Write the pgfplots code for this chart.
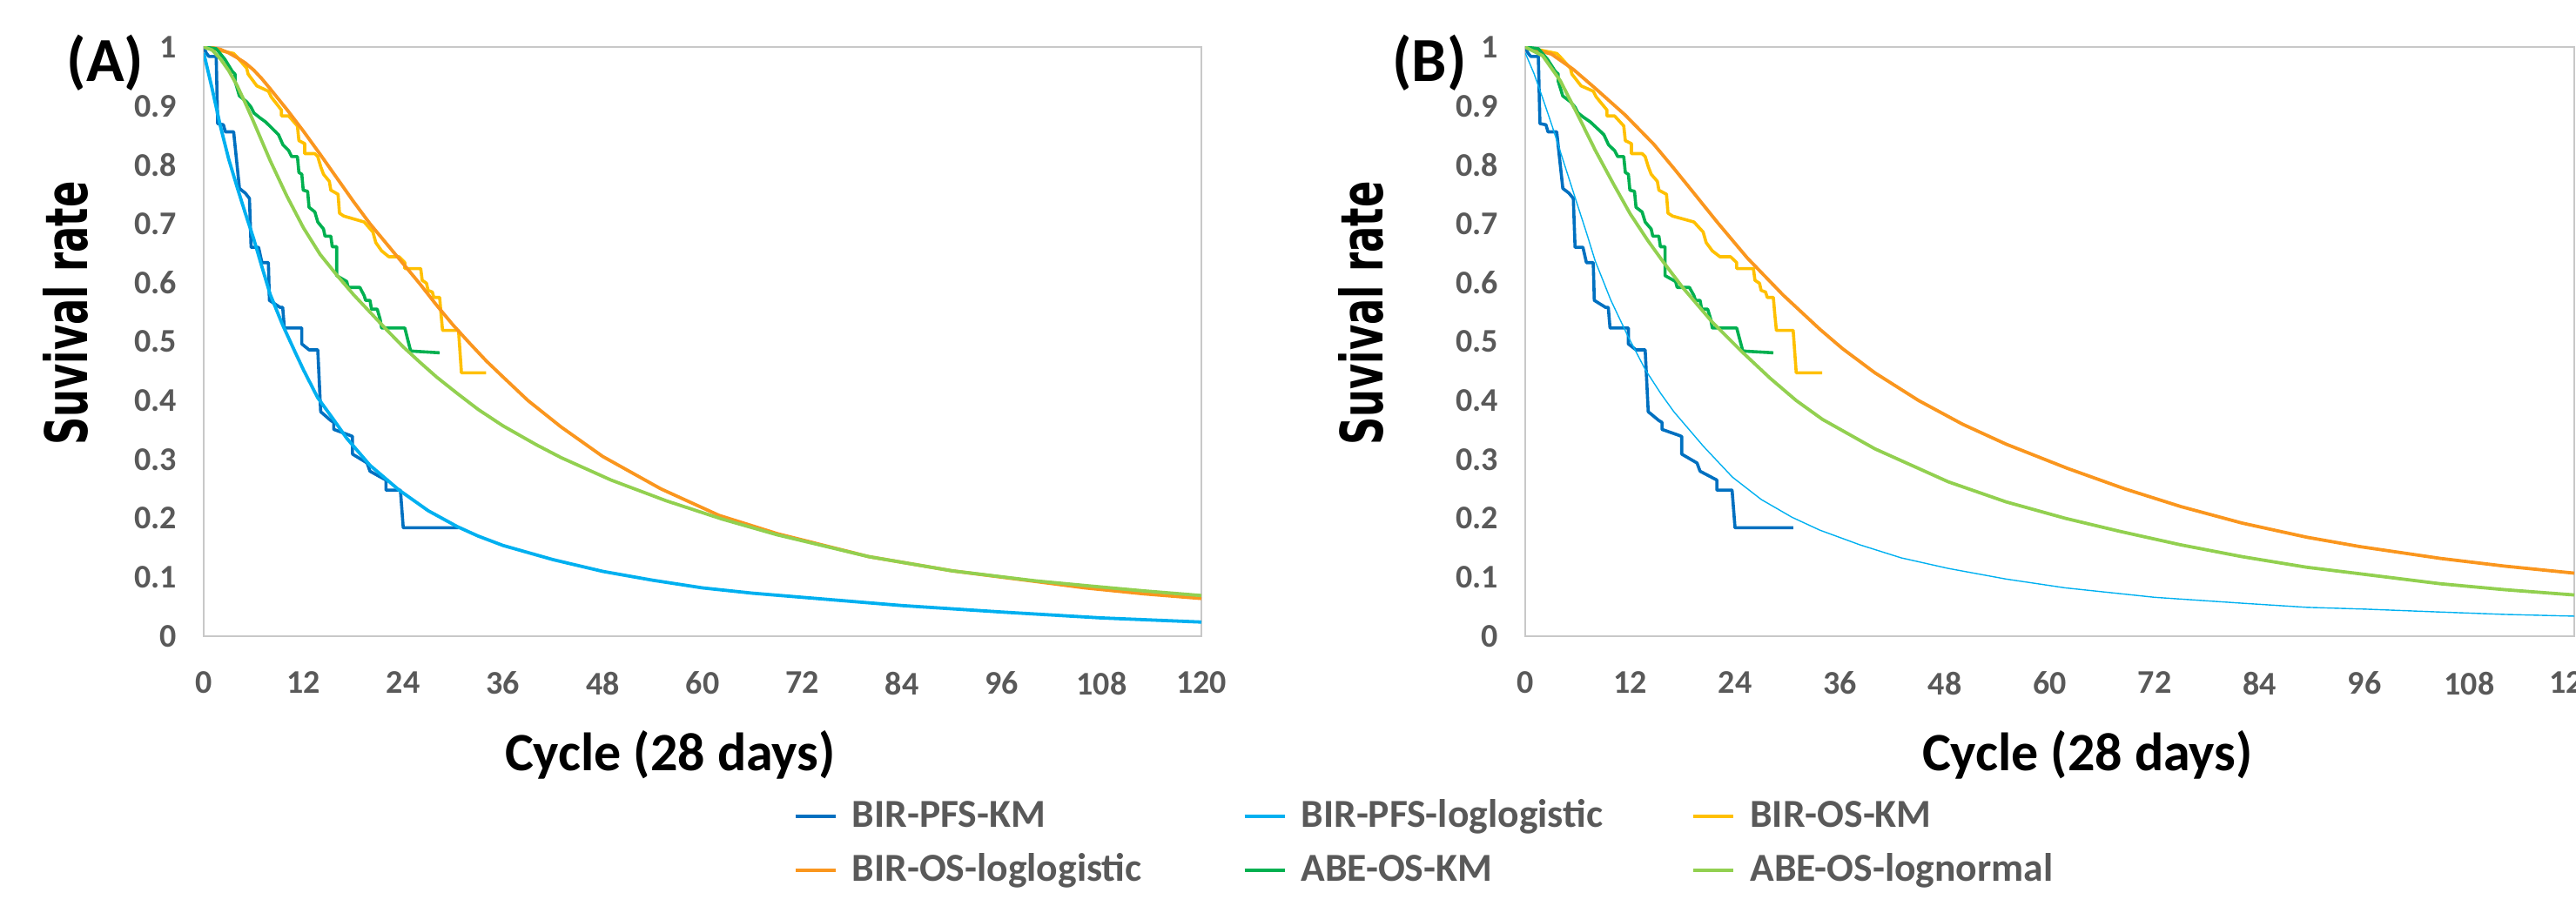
\documentclass[border=0pt]{standalone}
\usepackage{fontspec}
\setmainfont{Carlito}
\newfontfamily\dejavu{DejaVu Sans}
\usepackage{graphicx}
\usepackage{pgfplots}
\usepackage{pgfplotstable}
\pgfplotsset{compat=1.18}

\definecolor{kmblue}{RGB}{0,112,192}
\definecolor{llblue}{RGB}{0,176,240}
\definecolor{kmyellow}{RGB}{255,192,0}
\definecolor{llorange}{RGB}{250,150,30}
\definecolor{kmgreen}{RGB}{0,176,80}
\definecolor{lngreen}{RGB}{146,208,80}
\definecolor{axgray}{RGB}{200,200,200}
\definecolor{tickgray}{RGB}{89,89,89}

% Kaplan-Meier curves (same in both panels)
\pgfplotstableread{
c s
0 1.0
0.3 0.99
0.63 0.984
1.5 0.984
1.68 0.87
2.37 0.868
2.6 0.856
3.6 0.856
4.3 0.76
5.0 0.752
5.5 0.743
5.7 0.66
6.6 0.66
7.0 0.634
7.78 0.634
7.9 0.570
9.2 0.558
9.5 0.558
9.7 0.523
11.8 0.523
11.8 0.496
12.67 0.486
13.72 0.486
14.07 0.381
15.29 0.366
15.64 0.363
15.64 0.351
17.56 0.341
17.9 0.339
17.9 0.309
19.65 0.294
20.0 0.280
21.92 0.265
21.92 0.248
23.66 0.248
24.0 0.184
30.65 0.184
}\tPFSkm

\pgfplotstableread{
c s
0 1.0
3.6 0.989
3.95 0.984
5.17 0.964
5.34 0.954
6.39 0.934
7.78 0.925
8.13 0.915
9.35 0.893
9.35 0.883
10.22 0.883
11.27 0.866
11.45 0.841
12.15 0.836
12.15 0.819
13.37 0.819
13.72 0.814
14.07 0.797
14.41 0.784
15.11 0.772
15.29 0.757
16.16 0.750
16.33 0.718
16.86 0.713
19.3 0.703
20.35 0.686
20.7 0.668
21.4 0.654
22.27 0.644
23.49 0.644
24.19 0.634
24.19 0.624
26.1 0.624
26.28 0.604
26.8 0.599
26.98 0.587
27.5 0.584
27.68 0.575
28.38 0.575
28.55 0.546
28.73 0.519
30.65 0.519
31.0 0.447
33.96 0.447
}\tOSkm

\pgfplotstableread{
c s
0 1.0
1.5 0.997
1.68 0.994
2.55 0.979
3.42 0.959
3.77 0.954
3.77 0.942
4.29 0.917
5.17 0.907
5.69 0.898
6.04 0.888
6.74 0.880
7.43 0.873
8.66 0.856
9.0 0.851
9.53 0.834
10.23 0.824
10.58 0.814
11.27 0.814
11.45 0.787
11.8 0.784
11.97 0.757
12.5 0.755
12.67 0.728
13.37 0.720
13.72 0.703
14.41 0.691
14.59 0.679
15.29 0.679
15.46 0.661
15.99 0.661
15.99 0.612
17.2 0.602
17.38 0.592
18.78 0.592
19.3 0.578
19.48 0.570
20.0 0.570
20.18 0.555
20.87 0.555
21.22 0.538
21.4 0.523
24.19 0.523
24.89 0.484
28.38 0.481
}\tABEkm

% Panel A fitted curves
\pgfplotstableread{
c s
0 0.99
1 0.93
2 0.866
3 0.81
4 0.763
5 0.718
6 0.675
7 0.627
8 0.58
9.5 0.528
11 0.482
12 0.452
13.7 0.405
15.5 0.37
17.2 0.336
20 0.29
23.5 0.248
27 0.213
30.5 0.186
33 0.170
36 0.154
42 0.13
48 0.11
54 0.095
60 0.082
66 0.073
72 0.066
84 0.052
96 0.041
108 0.031
120 0.024
}\tApfsll

\pgfplotstableread{
c s
0 1.0
1 0.999
2 0.996
3 0.99
4 0.982
5 0.973
6 0.961
7 0.946
8 0.929
10 0.894
12 0.857
14 0.818
16 0.778
18 0.738
20 0.70
22 0.666
24 0.632
26 0.598
28 0.562
30 0.528
32 0.497
34 0.467
36 0.44
39 0.40
43 0.355
48 0.305
55 0.25
62 0.205
69 0.174
80 0.135
90 0.111
100 0.093
106 0.082
113 0.072
120 0.064
}\tAosll

\pgfplotstableread{
c s
0 1.0
1 0.995
2 0.98
3 0.96
4 0.935
5 0.905
6 0.873
8 0.807
10 0.747
12 0.693
14 0.648
16 0.613
18 0.58
20 0.55
22 0.52
24 0.491
26 0.465
28 0.44
30.5 0.412
33 0.385
36 0.357
40 0.325
43 0.303
49 0.265
55.6 0.23
62.3 0.199
69 0.172
80 0.135
90 0.111
100 0.094
106 0.086
113 0.077
120 0.069
}\tAabeln

% Panel B fitted curves
\pgfplotstableread{
c s
0 0.99
1 0.955
2 0.913
3.1 0.865
4.5 0.80
5.8 0.74
7 0.685
8 0.637
9.8 0.57
11.75 0.509
13.75 0.452
15.5 0.412
17 0.381
20.4 0.322
23.7 0.27
27 0.232
30.5 0.202
33.7 0.18
38.3 0.155
43 0.133
48.4 0.115
55 0.097
61.8 0.082
72 0.066
82 0.056
89.4 0.049
96 0.046
104.7 0.041
112 0.037
120 0.034
}\tBpfsll

\pgfplotstableread{
c s
0 1.0
3 0.988
5.5 0.962
8 0.93
11.4 0.885
14.7 0.835
17 0.794
19.4 0.75
22 0.702
25.4 0.642
29.5 0.579
33.7 0.521
36.3 0.488
40 0.447
45 0.40
50 0.36
55 0.326
62 0.285
68.6 0.25
75 0.22
82 0.192
89.4 0.168
95.5 0.152
104.7 0.132
112 0.119
120 0.107
}\tBosll

\pgfplotstableread{
c s
0 1.0
2 0.985
4 0.943
6 0.885
8 0.825
10 0.77
12 0.717
14 0.672
15.7 0.637
18 0.592
21.4 0.533
24.7 0.484
28 0.438
31 0.40
34 0.368
40 0.318
48.4 0.262
55 0.228
61.8 0.2
68 0.178
75 0.155
82 0.135
89.4 0.117
96 0.105
104.7 0.089
112 0.079
120 0.07
}\tBabeln

\pgfplotsset{
  panel/.style={
    scale only axis,
    height=169.25pt,
    xmin=0, xmax=120, ymin=0, ymax=1,
    xtick={0,12,24,36,48,60,72,84,96,108,120},
    ytick={0,0.1,0.2,0.3,0.4,0.5,0.6,0.7,0.8,0.9,1},
    major tick length=0pt,
    axis line style={draw=axgray, line width=0.5pt},
    tick label style={font=\fontsize{9.5}{10}\selectfont\bfseries, text=tickgray},
    /pgf/number format/assume math mode=true,
    xticklabel style={anchor=north, inner sep=0pt, yshift=-10pt},
    yticklabel style={anchor=east, inner sep=0pt, xshift=-7.5pt},
  },
  km/.style={line width=0.9pt, line join=round},
  fit/.style={line width=0.95pt, line join=round},
}

\begin{document}
\begin{tikzpicture}
% Panel A
\begin{axis}[panel, at={(58.5pt,77.25pt)}, anchor=south west, width=286.5pt,
  legend columns=3, legend cell align=left,
  legend image code/.code={\draw[#1] (0pt,0pt) -- (11.5pt,0pt);},
  legend style={at={(0.5916,-0.2733)}, anchor=north west, draw=none, fill=none,
    inner sep=0pt, outer sep=0pt,
    font=\fontsize{11.4}{12}\selectfont\bfseries, text=tickgray,
    /tikz/every odd column/.append style={column sep=4.25pt},
    /tikz/every even column/.append style={column sep=0pt},
    row sep=4.5pt,
    nodes={inner sep=0pt, text height=8.5pt, text depth=2.5pt}},
]
\addplot[kmblue, km] table[x=c,y=s] {\tPFSkm};
\addlegendentry{\makebox[112.25pt][l]{BIR-PFS-KM}}
\addplot[llblue, fit] table[x=c,y=s] {\tApfsll};
\addlegendentry{\makebox[112.25pt][l]{BIR-PFS-loglogistic}}
\addplot[kmyellow, km] table[x=c,y=s] {\tOSkm};
\addlegendentry{\makebox[112.25pt][l]{BIR-OS-KM}}
\addplot[llorange, fit] table[x=c,y=s] {\tAosll};
\addlegendentry{\makebox[112.25pt][l]{BIR-OS-loglogistic}}
\addplot[kmgreen, km] table[x=c,y=s] {\tABEkm};
\addlegendentry{\makebox[112.25pt][l]{ABE-OS-KM}}
\addplot[lngreen, fit] table[x=c,y=s] {\tAabeln};
\addlegendentry{\makebox[112.25pt][l]{ABE-OS-lognormal}}
\end{axis}

% Panel B
\begin{axis}[panel, at={(438pt,77.25pt)}, anchor=south west, width=301.25pt]
\addplot[kmblue, km] table[x=c,y=s] {\tPFSkm};
\addplot[llblue, line width=0.35pt] table[x=c,y=s] {\tBpfsll};
\addplot[kmyellow, km] table[x=c,y=s] {\tOSkm};
\addplot[llorange, fit] table[x=c,y=s] {\tBosll};
\addplot[kmgreen, km] table[x=c,y=s] {\tABEkm};
\addplot[lngreen, fit] table[x=c,y=s] {\tBabeln};
\end{axis}

% titles and axis labels
\node[font=\fontsize{18}{20}\selectfont\bfseries] at (30.25pt,242pt) {(A)};
\node[font=\fontsize{18}{20}\selectfont\bfseries] at (410.5pt,242pt) {(B)};
\node[font=\fontsize{15.5}{17}\selectfont\bfseries] at (192.5pt,43.25pt) {Cycle (28 days)};
\node[font=\fontsize{15.5}{17}\selectfont\bfseries] at (599.5pt,43.25pt) {Cycle (28 days)};
\node[rotate=90, font=\dejavu\fontsize{11.2}{12}\selectfont\bfseries] at (18.75pt,170pt) {\scalebox{1}[1.5]{Suvival rate}};
\node[rotate=90, font=\dejavu\fontsize{11.2}{12}\selectfont\bfseries] at (390.75pt,170pt) {\scalebox{1}[1.5]{Suvival rate}};

\pgfresetboundingbox
\path[use as bounding box] (0pt,0pt) rectangle (739.75pt,260pt);
\end{tikzpicture}
\end{document}
